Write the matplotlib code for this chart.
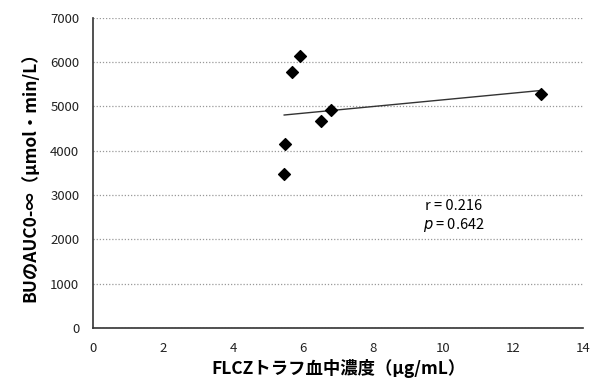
import matplotlib
matplotlib.use('Agg')
import matplotlib.pyplot as plt
import numpy as np

plt.rcParams['font.family'] = ['Noto Sans CJK JP', 'DejaVu Sans']

# FLCZ trough concentration vs BU AUC
flcz_conc = [5.46, 5.49, 5.69, 5.91, 6.50, 6.80, 12.80]
bu_auc = [3480, 4150, 5780, 6140, 4680, 4920, 5280]
r_text = 'r = 0.216'
p_text = '= 0.642'

fig = plt.figure(figsize=(6.01, 3.88), dpi=100)
ax = fig.add_axes([0.155, 0.155, 0.815, 0.799])

ax.scatter(flcz_conc, bu_auc, marker='D', s=36, color='black', zorder=3)

# linear trend line
slope, intercept = np.polyfit(flcz_conc, bu_auc, 1)
xs = np.array([min(flcz_conc), max(flcz_conc)])
ax.plot(xs, slope * xs + intercept, color='#333333', lw=1.0, zorder=2)

ax.set_xlim(0, 14)
ax.set_ylim(0, 7000)
ax.set_xticks(np.arange(0, 15, 2))
ax.set_yticks(np.arange(0, 7001, 1000))
ax.yaxis.grid(True, linestyle=(0, (1, 1.5)), color='#999999', lw=0.9)
ax.set_axisbelow(True)
ax.tick_params(length=0, labelsize=9.5, colors='#222222')
ax.tick_params(axis='y', pad=10)
ax.tick_params(axis='x', pad=10)

for side in ['top', 'right']:
    ax.spines[side].set_visible(False)
for side in ['left', 'bottom']:
    ax.spines[side].set_color('#333333')
    ax.spines[side].set_linewidth(1.2)

ax.set_xlabel('FLCZトラフ血中濃度（μg/mL）', fontsize=12.5, fontweight='bold', labelpad=3)
ax.set_ylabel('BUのAUC0-∞（μmol・min/L）', fontsize=12.5, fontweight='bold', labelpad=8)

ax.text(10.3, 2760, r_text, ha='center', va='center', fontsize=10.5)
ax.text(10.3, 2320, r'$p$ ' + p_text, ha='center', va='center', fontsize=10.5)

fig.savefig('out.png', dpi=100)
